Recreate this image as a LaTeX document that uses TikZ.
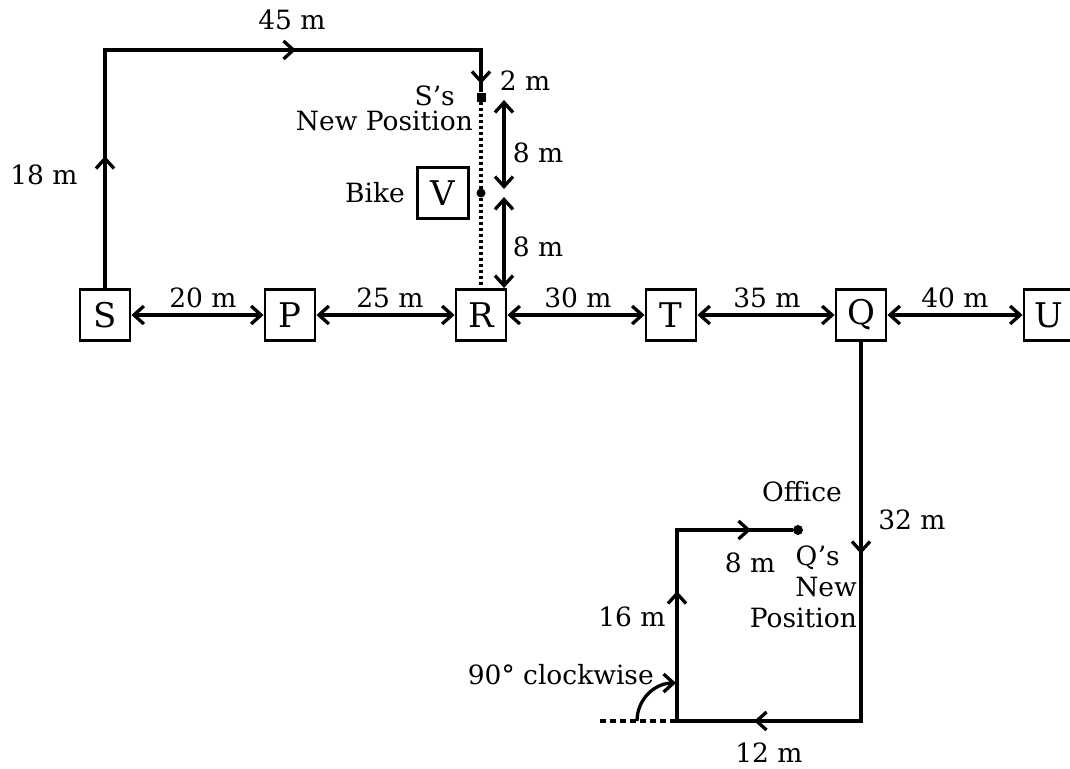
\documentclass[tikz,border=0pt]{standalone}
\usepackage{fontspec}
\setmainfont{DejaVu Serif}
\usetikzlibrary{arrows.meta,decorations.markings}
\begin{document}
\begin{tikzpicture}[x=1pt,y=-1pt,
  >={Straight Barb[length=10pt,width=18pt]},
  every node/.style={font=\fontsize{26.5}{30}\selectfont, inner sep=0pt},
  box/.style={draw, line width=2.9pt, minimum width=50pt, minimum height=51pt, font=\fontsize{34}{36}\selectfont},
  route/.style={line width=3.3pt},
  dotline/.style={line width=3.3pt, dash pattern=on 3.5pt off 2.5pt},
  dashline/.style={line width=3.1pt, dash pattern=on 6pt off 4pt}
]
\useasboundingbox (0,0) rectangle (1070,768);
% boxes
\node[box] (S) at (105,315) {S};
\node[box] (P) at (290,315) {P};
\node[box] (R) at (481,315) {R};
\node[box] (T) at (671,315) {T};
\node[box] (Q) at (861,315) {Q};
\node[box] (U) at (1049,315) {U};
\node[box, minimum width=51pt] (V) at (443,193) {V};
% markers
\node[fill, minimum size=9pt] (snew) at (481,97) {};
\node[circle, fill, minimum size=9pt] (bike) at (481,193) {};
\node[circle, fill, minimum size=10pt] (office) at (798,530) {};
% corners
\coordinate (c1) at (105,50);
\coordinate (c2) at (481,50);
\coordinate (c3) at (861,721);
\coordinate (c4) at (677,721);
\coordinate (c5) at (677,530);
\coordinate (dst) at (600,721);
\coordinate (arcst) at (637,721);
\coordinate (arcend) at (676,683);
\coordinate (a1) at (504,100);
\coordinate (a2) at (504,189);
\coordinate (a3) at (504,197);
% S route
\draw[route, postaction={decorate}, decoration={markings,
   mark=at position 132pt with {\arrow{>}},
   mark=at position 429pt with {\arrow{>}},
   mark=at position 648pt with {\arrow{>}}}]
  (S) -- (c1) -- (c2) -- (snew);
% dotted line
\draw[dotline] (snew) -- (R);
% 8 m arrows
\draw[route,<->] (a1) -- (a2);
\draw[route,<->] (a3) -- (a3 |- R.north);
% horizontal arrows
\draw[route,<->] (S) -- (P);
\draw[route,<->] (P) -- (R);
\draw[route,<->] (R) -- (T);
\draw[route,<->] (T) -- (Q);
\draw[route,<->] (Q) -- (U);
% Q route
\draw[route, postaction={decorate}, decoration={markings,
   mark=at position 212pt with {\arrow{>}},
   mark=at position 486pt with {\arrow{>}},
   mark=at position 693pt with {\arrow{>}},
   mark=at position 828pt with {\arrow{>}}}]
  (Q) -- (c3) -- (c4) -- (c5) -- (office);
\draw[dashline] (dst) -- (c4);
\draw[route,->] (arcst) .. controls (637,699) and (655,683) .. (arcend);
% labels
\node (l45) at (292,20) {45 m};
\node (l18) at (44,175) {18 m};
\node (l2) at (525,81) {2 m};
\node[align=right, anchor=south east, font=\fontsize{26.5}{25}\selectfont] (lsnew) at (473,131) {S’s\hspace*{18pt}\\New Position};
\node (lbike) at (375,193) {Bike};
\node (l8a) at (538,153) {8 m};
\node (l8b) at (538,247) {8 m};
\node (l20) at (203,298) {20 m};
\node (l25) at (390,298) {25 m};
\node (l30) at (578,298) {30 m};
\node (l35) at (767,298) {35 m};
\node (l40) at (955,298) {40 m};
\node (loffice) at (802,492) {Office};
\node (l32) at (912,520) {32 m};
\node (l8c) at (750,563) {8 m};
\node[align=right, anchor=south east, font=\fontsize{26.5}{31}\selectfont] (lqnew) at (857,628) {Q’s\hspace*{17pt}\\New\hspace*{7pt}\\Position};
\node (l16) at (632,617) {16 m};
\node[anchor=east] (l90) at (654,675) {90° clockwise};
\node (l12) at (769,753) {12 m};
\end{tikzpicture}
\end{document}
